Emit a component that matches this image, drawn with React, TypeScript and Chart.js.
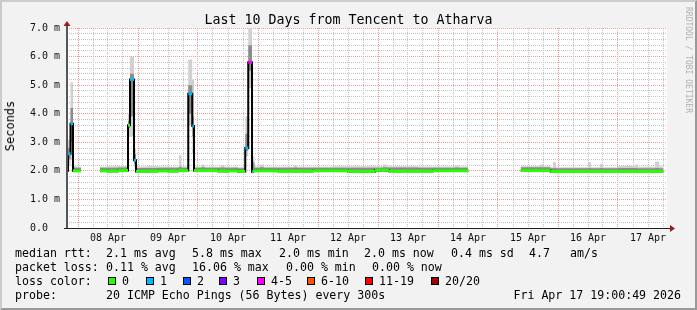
import React, { useEffect, useRef } from "react";
import { Chart, registerables } from "chart.js";
Chart.register(...registerables);

const W = 697;
const H = 310;
const MONO = "'DejaVu Sans Mono', 'Liberation Mono', monospace";

// x values are hours since 07 Apr 00:00
const X_MIN = 19.6;
const X_MAX = 259.6;

const dayLabels = ["08 Apr", "09 Apr", "10 Apr", "11 Apr", "12 Apr", "13 Apr", "14 Apr", "15 Apr", "16 Apr", "17 Apr"];
const yTickLabels = ["0.0  ", "1.0 m", "2.0 m", "3.0 m", "4.0 m", "5.0 m", "6.0 m", "7.0 m"];

// median rtt (ms), value holds from time until next time; null = no data
const medianT = [19.6, 20.0, 21.0, 22.0, 25.2, 32.8, 36.0, 40.0, 44.0, 44.8, 46.4, 47.2, 52.0, 56.0, 60.0, 64.0, 68.1, 69.7, 70.4, 80.0, 84.0, 88.0, 90.9, 92.1, 93.6, 94.0, 104.0, 118.0, 132.0, 142.8, 148.4, 166.0, 180.1, 201.1, 213.0, 258.1];
const medianV = [2.0, 2.6, 3.65, 2.0, null, 2.0, 1.99, 2.01, 3.6, 5.2, 2.37, 1.98, 1.99, 2.0, 1.99, 2.01, 4.7, 3.57, 2.01, 1.99, 2.0, 1.98, 2.8, 5.8, 1.97, 2.0, 1.99, 2.0, 1.98, 2.02, 1.99, 2.0, null, 2.01, 1.98, null];
// lost pings out of 20 for each median step
const medianLoss = [0, 1, 1, 0, null, 0, 0, 0, 0, 1, 1, 0, 0, 0, 0, 0, 1, 1, 0, 0, 0, 0, 1, 4, 1, 0, 0, 0, 0, 0, 0, 0, null, 0, 0, null];

// smoke (ping spread, ms)
const smokeT = [19.6, 20.0, 21.0, 22.0, 23.0, 25.2, 32.8, 36.0, 40.0, 44.0, 44.8, 46.4, 47.2, 52.0, 56.0, 60.0, 64.4, 65.4, 68.1, 69.7, 70.4, 73.4, 74.6, 81.0, 82.6, 88.0, 90.9, 92.1, 93.6, 94.6, 96.8, 98.4, 110.4, 111.6, 126.0, 146.0, 147.5, 160.0, 174.8, 176.4, 180.1, 201.1, 208.8, 210.0, 213.0, 214.0, 215.2, 228.0, 229.2, 232.8, 234.0, 240.0, 246.8, 248.0, 254.8, 256.4, 258.1];
const smokeMin = [1.96, 2.2, 2.4, 1.96, 1.96, null, 1.96, 1.96, 1.96, 3.2, 3.2, 2.15, 1.95, 1.95, 1.96, 1.96, 1.96, 1.96, 3.6, 2.6, 1.96, 1.96, 1.96, 1.96, 1.96, 1.94, 2.5, 4.9, 1.95, 1.96, 1.96, 1.96, 1.96, 1.96, 1.95, 1.96, 1.96, 1.96, 1.96, 1.96, null, 1.97, 1.97, 1.97, 1.95, 1.95, 1.95, 1.95, 1.95, 1.95, 1.95, 1.95, 1.95, 1.95, 1.95, 1.95, null];
const coreLo = [1.98, 2.4, 3.0, 1.98, 1.98, null, 1.98, 1.98, 1.99, 3.5, 3.9, 2.25, 1.97, 1.97, 1.98, 1.98, 1.98, 1.98, 4.0, 3.2, 1.98, 1.98, 1.98, 1.98, 1.98, 1.96, 2.7, 5.5, 1.98, 1.98, 1.98, 1.98, 1.98, 1.98, 1.97, 1.98, 1.98, 1.98, 1.98, 1.98, null, 1.99, 1.99, 1.99, 1.97, 1.97, 1.97, 1.97, 1.97, 1.97, 1.97, 1.97, 1.97, 1.97, 1.97, 1.97, null];
const coreHi = [2.11, 2.8, 4.2, 2.12, 2.11, null, 2.11, 2.11, 2.12, 3.75, 5.4, 2.6, 2.1, 2.1, 2.11, 2.11, 2.14, 2.11, 5.0, 3.9, 2.11, 2.13, 2.11, 2.12, 2.11, 2.09, 3.3, 6.4, 2.3, 2.11, 2.13, 2.11, 2.12, 2.11, 2.11, 2.13, 2.12, 2.11, 2.12, 2.11, null, 2.13, 2.13, 2.13, 2.09, 2.1, 2.09, 2.1, 2.09, 2.1, 2.09, 2.1, 2.1, 2.09, 2.1, 2.09, null];
const smokeMax = [2.14, 3.1, 5.1, 2.17, 2.14, null, 2.14, 2.16, 2.17, 4.0, 6.0, 2.8, 2.15, 2.17, 2.15, 2.14, 2.55, 2.15, 5.9, 5.2, 2.15, 2.22, 2.14, 2.19, 2.14, 2.13, 3.9, 7.0, 2.5, 2.15, 2.22, 2.14, 2.19, 2.14, 2.16, 2.22, 2.16, 2.15, 2.19, 2.15, null, 2.16, 2.22, 2.16, 2.13, 2.3, 2.13, 2.3, 2.13, 2.25, 2.13, 2.17, 2.22, 2.14, 2.33, 2.15, null];

// legend
const lossLabels = ["0", "1", "2", "3", "4-5", "6-10", "11-19", "20/20"];
const lossColors = ["#26ff00", "#00b8ff", "#0059ff", "#7e00ff", "#ff00ff", "#ff5500", "#ff0000", "#a10000"];
const rttStats = ["median rtt:", "2.1 ms avg", "5.8 ms max", "2.0 ms min", "2.0 ms now", "0.4 ms sd", "4.7", "am/s"];
const lossStats = ["packet loss:", "0.11 % avg", "16.06 % max", "0.00 % min", "0.00 % now"];
const titleText = "Last 10 Days from Tencent to Atharva";
const probeText = "20 ICMP Echo Pings (56 Bytes) every 300s";
const dateText = "Fri Apr 17 19:00:49 2026";

// layout constants (pixels)
const rttX = [15, 106, 192, 279, 364, 451, 529, 570];
const lossX = [15, 106, 192, 286, 372];
const boxX = [108, 146, 183, 219, 257, 307, 365, 431];

function lossBucket(n: number): number {
  if (n <= 3) return n;
  if (n <= 5) return 4;
  if (n <= 10) return 5;
  if (n <= 19) return 6;
  return 7;
}

function steppedPoints(t: number[], v: (number | null)[]) {
  const pts: { x: number; y: number | null }[] = [];
  for (let i = 0; i < t.length; i++) {
    const val = v[i];
    if (val == null) {
      pts.push({ x: t[i], y: null });
      continue;
    }
    pts.push({ x: t[i], y: val });
    if (i + 1 < t.length && v[i + 1] == null) pts.push({ x: t[i + 1], y: val });
  }
  return pts;
}

function horizontalPoints(t: number[], v: (number | null)[]) {
  const pts: { x: number; y: number | null }[] = [];
  const cols: string[] = [];
  for (let i = 0; i + 1 < t.length; i++) {
    const val = v[i];
    if (val == null) continue;
    pts.push({ x: t[i], y: val }, { x: t[i + 1], y: val }, { x: t[i + 1], y: null });
    cols.push(lossColors[lossBucket(medianLoss[i] as number)]);
  }
  return { pts, cols };
}

const xGridTicks: number[] = [];
for (let h = 24; h <= X_MAX; h += 6) xGridTicks.push(h);
const yGridTicks: number[] = [];
for (let k = 0; k <= 35; k++) yGridTicks.push(k / 5);

const RED_GRID = "#f19a9a";
const GRAY_GRID = "#c4c4c4";

function Txt(props: { x: number; base: number; size: number; color?: string; children: React.ReactNode }) {
  return (
    <div
      style={{
        position: "absolute",
        left: props.x,
        top: props.base - 0.846 * props.size,
        fontSize: props.size,
        lineHeight: `${props.size}px`,
        fontFamily: MONO,
        whiteSpace: "pre",
        color: props.color || "#000",
      }}
    >
      {props.children}
    </div>
  );
}

export default function App() {
  const ref = useRef<HTMLCanvasElement | null>(null);

  useEffect(() => {
    document.body.style.margin = "0";
    const colored = horizontalPoints(medianT, medianV);
    const lineBase = {
      type: "line" as const,
      pointRadius: 0,
      stepped: "before" as const,
      spanGaps: false,
      borderColor: "rgba(0,0,0,0)",
      borderWidth: 1,
    };
    const chart = new Chart(ref.current as HTMLCanvasElement, {
      type: "line",
      data: {
        datasets: [
          {
            type: "line",
            data: colored.pts as any,
            pointRadius: 0,
            borderWidth: 3,
            borderCapStyle: "butt",
            spanGaps: false,
            borderColor: "#26ff00",
            segment: {
              borderColor: (ctx: any) => colored.cols[Math.floor(ctx.p0DataIndex / 3)],
            },
          },
          { ...lineBase, data: steppedPoints(medianT, medianV) as any, borderColor: "#000", borderWidth: 2 },
          { ...lineBase, data: steppedPoints(smokeT, coreLo) as any, fill: false },
          { ...lineBase, data: steppedPoints(smokeT, coreHi) as any, fill: "-1", backgroundColor: "#8c8c8c" },
          { ...lineBase, data: steppedPoints(smokeT, smokeMin) as any, fill: false },
          { ...lineBase, data: steppedPoints(smokeT, smokeMax) as any, fill: "-1", backgroundColor: "#d0d0d0" },
        ],
      },
      options: {
        animation: false,
        responsive: false,
        devicePixelRatio: 1,
        layout: { padding: { top: 28, right: 30, left: 0, bottom: 0 } },
        plugins: { legend: { display: false }, tooltip: { enabled: false }, title: { display: false } },
        scales: {
          x: {
            type: "linear",
            min: X_MIN,
            max: X_MAX,
            afterBuildTicks: (s: any) => {
              s.ticks = xGridTicks.map((v) => ({ value: v }));
            },
            afterFit: (s: any) => {
              s.height = H - 228;
            },
            ticks: {
              autoSkip: false,
              maxRotation: 0,
              padding: 4,
              color: "#111",
              font: { family: MONO, size: 10 },
              callback: (v: any) => {
                const n = Number(v);
                return n % 24 === 12 ? dayLabels[(n - 36) / 24] : "";
              },
            },
            grid: {
              drawTicks: false,
              lineWidth: 1,
              color: (c: any) => (c.index % 4 === 0 ? RED_GRID : GRAY_GRID),
            },
            border: { display: false, dash: [1, 1] },
          },
          y: {
            type: "linear",
            min: 0,
            max: 7,
            afterBuildTicks: (s: any) => {
              s.ticks = yGridTicks.map((v) => ({ value: v }));
            },
            afterFit: (s: any) => {
              s.width = 67;
            },
            ticks: {
              autoSkip: false,
              padding: 7,
              color: "#111",
              font: { family: MONO, size: 10 },
              callback: (_v: any, i: number) => (i % 5 === 0 ? yTickLabels[i / 5] : ""),
            },
            grid: {
              drawTicks: false,
              lineWidth: 1,
              color: (c: any) => (c.index % 5 === 0 ? RED_GRID : GRAY_GRID),
            },
            border: { display: false, dash: [1, 1] },
          },
        },
      },
      plugins: [
        {
          id: "canvasBg",
          beforeDraw: (c: any) => {
            const { ctx, chartArea: a } = c;
            ctx.save();
            ctx.fillStyle = "#ffffff";
            ctx.fillRect(a.left, a.top, a.right - a.left, a.bottom - a.top);
            ctx.restore();
          },
        },
        {
          id: "rrdAxes",
          afterDraw: (c: any) => {
            const { ctx, chartArea: a } = c;
            ctx.save();
            ctx.fillStyle = "#555";
            ctx.fillRect(a.left - 1, a.top - 5, 2, a.bottom - a.top + 6);
            ctx.fillStyle = "#222";
            ctx.fillRect(a.left - 3, a.bottom, a.right - a.left + 6, 1);
            ctx.fillStyle = "#9b1c1c";
            ctx.beginPath();
            ctx.moveTo(a.left, a.top - 7);
            ctx.lineTo(a.left - 3.5, a.top - 2);
            ctx.lineTo(a.left + 3.5, a.top - 2);
            ctx.closePath();
            ctx.fill();
            ctx.beginPath();
            ctx.moveTo(a.right + 8, a.bottom + 0.5);
            ctx.lineTo(a.right + 3, a.bottom - 3);
            ctx.lineTo(a.right + 3, a.bottom + 4);
            ctx.closePath();
            ctx.fill();
            ctx.restore();
          },
        },
      ],
    } as any);
    return () => chart.destroy();
  }, []);

  const lineBase = [258.3, 272.2, 286, 300];

  return (
    <div
      style={{
        position: "fixed",
        left: 0,
        top: 0,
        width: W,
        height: H,
        background: "#f2f2f2",
        overflow: "hidden",
      }}
    >
      <canvas ref={ref} width={W} height={H} style={{ position: "absolute", left: 0, top: 0, width: W, height: H }} />
      <div
        style={{
          position: "absolute",
          left: 0,
          top: 24.3 - 0.846 * 13.3,
          width: W,
          textAlign: "center",
          fontFamily: MONO,
          fontSize: 13.3,
          lineHeight: "13.3px",
          whiteSpace: "pre",
          color: "#000",
        }}
      >
        {titleText}
      </div>
      <div
        style={{
          position: "absolute",
          left: 9.5,
          top: 126,
          transform: "translate(-50%, -50%) rotate(-90deg)",
          fontFamily: MONO,
          fontSize: 12,
          lineHeight: "12px",
          whiteSpace: "pre",
          color: "#000",
        }}
      >
        Seconds
      </div>
      <div
        style={{
          position: "absolute",
          left: 687.5,
          top: 60,
          transform: "translate(-50%, -50%) rotate(90deg)",
          fontFamily: MONO,
          fontSize: 8,
          lineHeight: "8px",
          whiteSpace: "pre",
          color: "#b0b0b0",
        }}
      >
        RRDTOOL / TOBI OETIKER
      </div>
      {rttStats.map((s, i) => (
        <Txt key={"r" + i} x={rttX[i]} base={lineBase[0]} size={11.6}>
          {s}
        </Txt>
      ))}
      {lossStats.map((s, i) => (
        <Txt key={"l" + i} x={lossX[i]} base={lineBase[1]} size={11.6}>
          {s}
        </Txt>
      ))}
      <Txt x={15} base={lineBase[2]} size={11.6}>
        loss color:
      </Txt>
      {lossLabels.map((s, i) => (
        <React.Fragment key={"c" + i}>
          <div
            style={{
              position: "absolute",
              left: boxX[i],
              top: 277,
              width: 6,
              height: 6,
              border: "1px solid #000",
              background: lossColors[i],
            }}
          />
          <Txt x={boxX[i] + 14} base={lineBase[2]} size={11.6}>
            {s}
          </Txt>
        </React.Fragment>
      ))}
      <Txt x={15} base={lineBase[3]} size={11.6}>
        probe:
      </Txt>
      <Txt x={106} base={lineBase[3]} size={11.6}>
        {probeText}
      </Txt>
      <div
        style={{
          position: "absolute",
          right: W - 681,
          top: lineBase[3] - 0.846 * 11.6,
          fontSize: 11.6,
          lineHeight: "11.6px",
          fontFamily: MONO,
          whiteSpace: "pre",
          color: "#000",
        }}
      >
        {dateText}
      </div>
      <div
        style={{
          position: "absolute",
          left: 0,
          top: 0,
          width: W,
          height: H,
          boxSizing: "border-box",
          borderTop: "2px solid #cbcbcb",
          borderLeft: "2px solid #cbcbcb",
          borderRight: "2px solid #999",
          borderBottom: "2px solid #999",
          pointerEvents: "none",
        }}
      />
    </div>
  );
}
